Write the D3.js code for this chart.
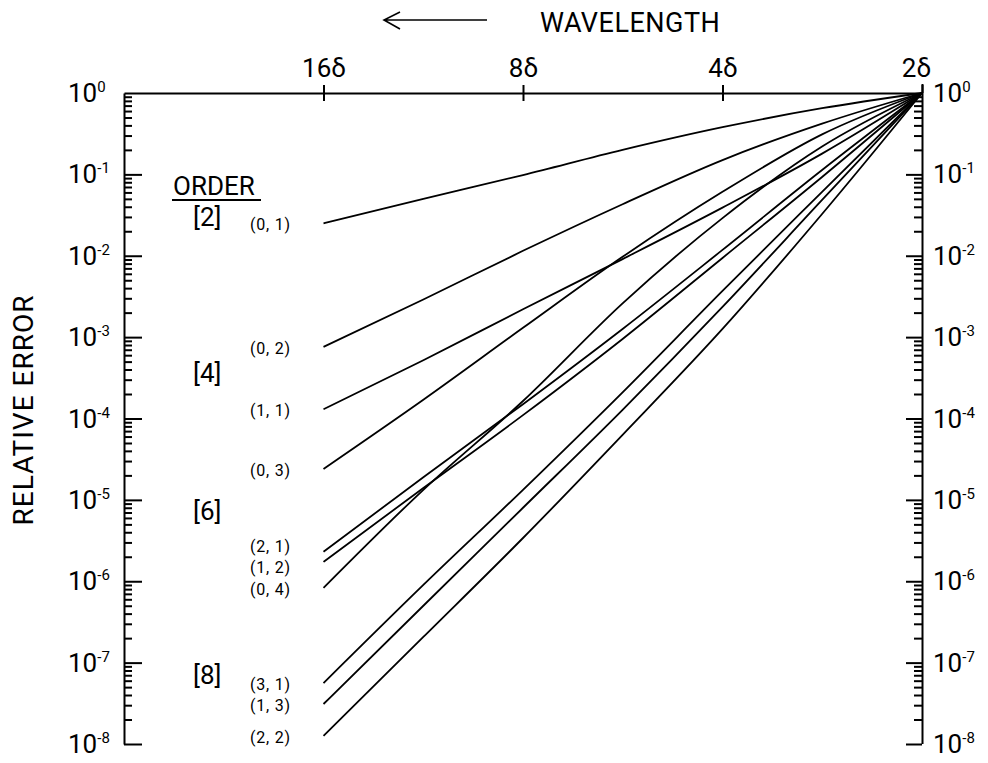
<!DOCTYPE html>
<html lang="en">
<head>
<meta charset="UTF-8">
<title>Relative error vs wavelength</title>
<script src="https://d3js.org/d3.v7.min.js"></script>
<style>
  body { margin: 0; background: #fff; }
  svg text { font-family: Roboto, "Liberation Sans", sans-serif; font-weight: 400; fill: #000; }
  .axis path, .axis line { stroke: #000; stroke-width: 2; }
  .curve { fill: none; stroke: #000; stroke-width: 1.8; }
</style>
</head>
<body>
<script>
// wavelength in units of grid spacing (delta)
const wavelengths = [16, 11.31, 8, 5.66, 4, 2.83, 2];
const topTicks = [16, 8, 4, 2];
const decades = [1, 1e-1, 1e-2, 1e-3, 1e-4, 1e-5, 1e-6, 1e-7, 1e-8];
const exponents = ["0", "-1", "-2", "-3", "-4", "-5", "-6", "-7", "-8"];

// relative error, one array per scheme (m, n)
const e01 = [2.5e-2, 5.0e-2, 9.8e-2, 0.20, 0.38, 0.65, 1];
const e02 = [7.6e-4, 2.9e-3, 1.15e-2, 4.3e-2, 0.15, 0.42, 1];
const e11 = [1.3e-4, 5.2e-4, 2.2e-3, 9.1e-3, 3.9e-2, 0.18, 1];
const e03 = [2.4e-5, 1.7e-4, 1.3e-3, 9.7e-3, 6.1e-2, 0.31, 1];
const e21 = [2.3e-6, 1.9e-5, 1.5e-4, 1.26e-3, 1.18e-2, 0.113, 1];
const e12 = [1.73e-6, 1.4e-5, 1.1e-4, 9.5e-4, 9.4e-3, 9.3e-2, 1];
const e04 = [8.3e-7, 1.33e-5, 1.64e-4, 2.6e-3, 2.9e-2, 0.22, 1];
const e31 = [5.6e-8, 9.0e-7, 1.33e-5, 2.1e-4, 3.7e-3, 6.1e-2, 1];
const e13 = [3.1e-8, 5.0e-7, 8.0e-6, 1.28e-4, 2.35e-3, 4.85e-2, 1];
const e22 = [1.26e-8, 2.07e-7, 3.4e-6, 6.3e-5, 1.26e-3, 3.26e-2, 1];

const schemeNames = ["(0, 1)", "(0, 2)", "(1, 1)", "(0, 3)", "(2, 1)", "(1, 2)", "(0, 4)", "(3, 1)", "(1, 3)", "(2, 2)"];
const schemeErrors = [e01, e02, e11, e03, e21, e12, e04, e31, e13, e22];
const orderLabels = ["[2]", "[4]", "[6]", "[8]"];

const width = 988, height = 763;
const svg = d3.select("body").append("svg")
    .attr("width", width)
    .attr("height", height);

const x = d3.scaleLog().domain([32, 2]).range([124, 922]);
const y = d3.scaleLog().domain([1, 1e-8]).range([93, 744]);

// minor ticks 2..9 in each decade
const minor = [];
decades.slice(1).forEach(d => { for (let k = 2; k <= 9; k++) minor.push(d * k); });

// left axis (ticks pointing inward)
const leftAxis = svg.append("g").attr("class", "axis").attr("transform", `translate(${x(32)},0)`);
leftAxis.call(d3.axisRight(y).tickValues(minor).tickSize(8).tickSizeOuter(0).tickFormat(""));
leftAxis.append("g").call(d3.axisRight(y).tickValues(decades.slice(1)).tickSize(18).tickFormat(""))
    .select(".domain").remove();

// right axis
const rightAxis = svg.append("g").attr("class", "axis").attr("transform", `translate(${x(2)},0)`);
rightAxis.call(d3.axisLeft(y).tickValues(minor).tickSize(8).tickSizeOuter(0).tickFormat(""));
rightAxis.append("g").call(d3.axisLeft(y).tickValues(decades.slice(1)).tickSize(16).tickFormat(""))
    .select(".domain").remove();
rightAxis.select(".domain").attr("d", `M0.5,84V${y(1e-8)}`);

// top axis with wavelength ticks crossing the frame
const topAxis = svg.append("g").attr("class", "axis").attr("transform", `translate(0,${y(1)})`);
topAxis.call(d3.axisTop(x).tickValues(topTicks).tickSize(8).tickSizeOuter(0).tickPadding(8)
    .tickFormat(d => d + "δ"));
topAxis.selectAll(".tick text").attr("font-size", 26).style("font-family", "Roboto, sans-serif");
topAxis.append("g").call(d3.axisBottom(x).tickValues(topTicks.slice(0, 3)).tickSize(8).tickFormat(""))
    .select(".domain").remove();
topAxis.selectAll(".tick").filter(d => d === 2).select("text").attr("dx", -6);

// decade labels with superscripts
function decadeLabels(xPos) {
  const t = svg.append("g").selectAll("text").data(decades).join("text")
      .attr("x", xPos)
      .attr("y", d => y(d) + 9)
      .attr("font-size", 26);
  t.append("tspan").text("10");
  t.append("tspan").attr("dy", -10).attr("font-size", 15).text((d, i) => exponents[i]);
}
decadeLabels(68);
decadeLabels(933);

// curves
const line = d3.line()
    .x((d, i) => x(wavelengths[i]))
    .y(d => y(d))
    .curve(d3.curveMonotoneX);

svg.append("g").selectAll("path").data(schemeErrors).join("path")
    .attr("class", "curve")
    .attr("d", line);

// scheme labels at the 16-delta end; (2, 1) and (1, 2) are crowded, nudge them apart
svg.append("g").selectAll("text").data(schemeErrors).join("text")
    .attr("x", 250)
    .attr("y", (d, i) => y(d[0]) + 7 + (schemeNames[i] === "(2, 1)" ? -7 : schemeNames[i] === "(1, 2)" ? 4 : 0))
    .attr("font-size", 16)
    .attr("letter-spacing", 0.8)
    .text((d, i) => schemeNames[i]);

// order group labels
svg.append("text").attr("x", 173).attr("y", 195).attr("font-size", 26).text("ORDER");
svg.append("line").attr("x1", 172).attr("x2", 261).attr("y1", 200).attr("y2", 200)
    .attr("stroke", "#000").attr("stroke-width", 2);
const orderY = [226, 382, 520, 684];
svg.append("g").selectAll("text").data(orderLabels).join("text")
    .attr("x", 193)
    .attr("y", (d, i) => orderY[i])
    .attr("font-size", 26)
    .text(d => d);

// axis titles
svg.append("text")
    .attr("transform", "translate(33,410) rotate(-90)")
    .attr("text-anchor", "middle")
    .attr("font-size", 28)
    .attr("letter-spacing", 1)
    .text("RELATIVE ERROR");

svg.append("text").attr("x", 540).attr("y", 32).attr("font-size", 27)
    .attr("letter-spacing", 0.5).text("WAVELENGTH");
svg.append("path")
    .attr("d", "M487,20H384M400,12L384,20L400,29")
    .attr("fill", "none").attr("stroke", "#000").attr("stroke-width", 1.6);
</script>
</body>
</html>
